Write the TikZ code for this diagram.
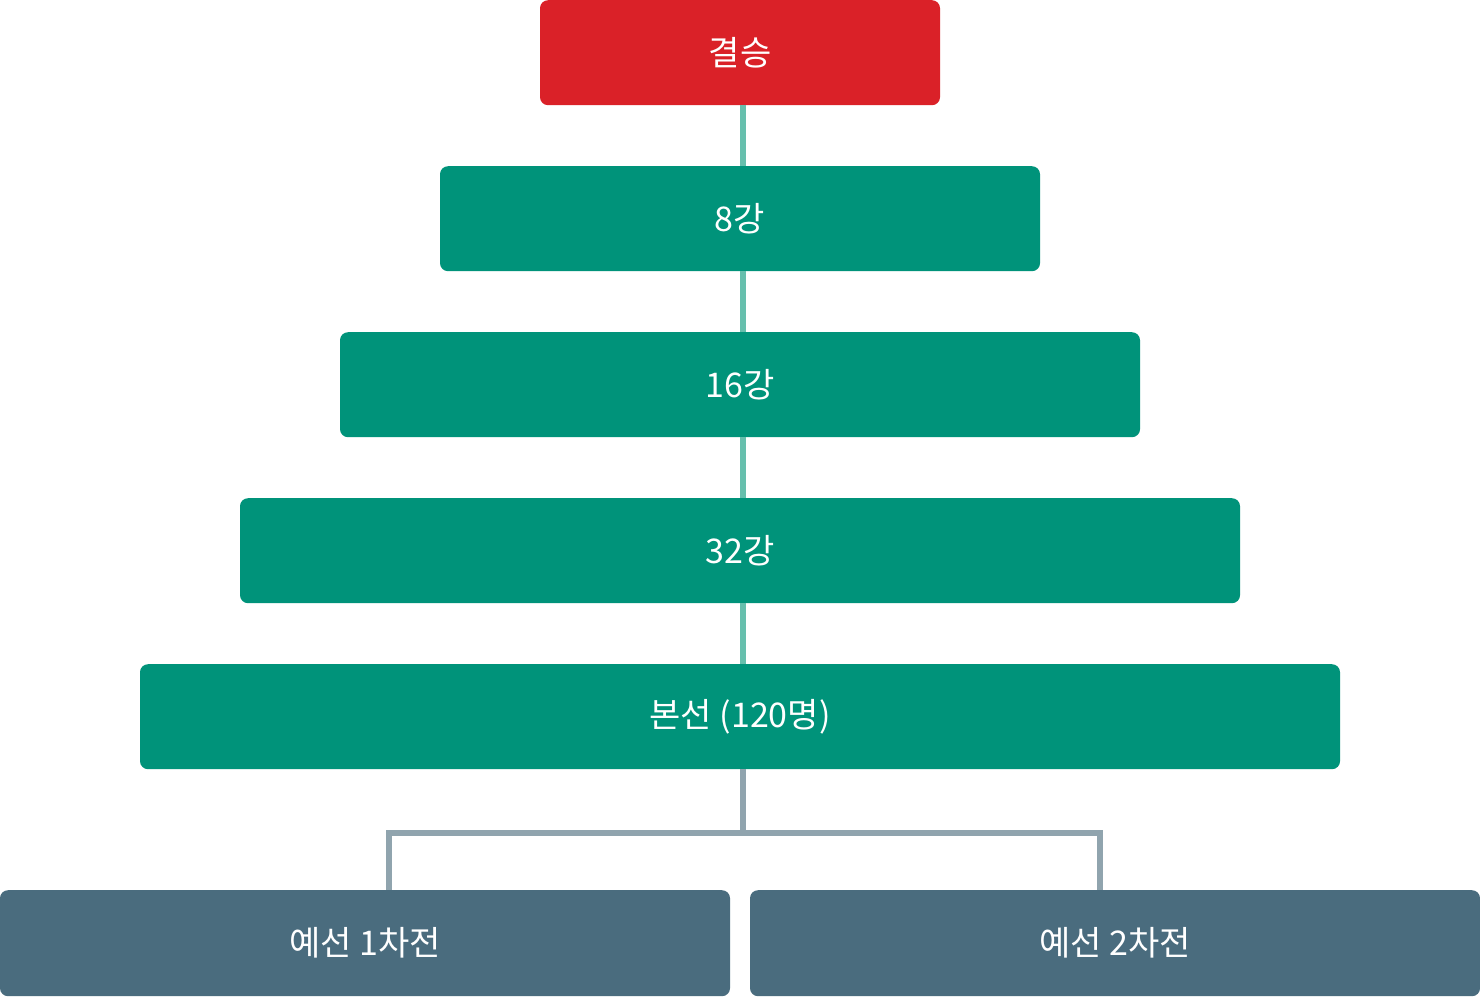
\documentclass[tikz,border=0pt]{standalone}
\usepackage{fontspec}
\setmainfont{Noto Sans CJK KR}
\definecolor{cred}{HTML}{DA2128}
\definecolor{cgreen}{HTML}{00937A}
\definecolor{cteal}{HTML}{66BFAD}
\definecolor{cslate}{HTML}{4A6C7E}
\definecolor{cgrey}{HTML}{90A4AE}
\begin{document}
\begin{tikzpicture}[x=1pt,y=-1pt,
  box/.style={rounded corners=8pt, inner sep=0pt, minimum height=105pt, text=white,
    font=\fontsize{34}{40}\selectfont, anchor=north},
  tline/.style={draw=cteal, line width=6pt},
  gline/.style={draw=cgrey, line width=6pt, line join=miter}]
\useasboundingbox (0,0) rectangle (1480,996);
\node[box, fill=cred, minimum width=400pt] (final) at (740,0) {결승};
\node[box, fill=cgreen, minimum width=600pt] (q8) at (740,166) {8강};
\node[box, fill=cgreen, minimum width=800pt] (q16) at (740,332) {16강};
\node[box, fill=cgreen, minimum width=1000pt] (q32) at (740,498) {32강};
\node[box, fill=cgreen, minimum width=1200pt] (main) at (740,664) {본선 (120명)};
\node[box, fill=cslate, minimum width=730pt, minimum height=106pt] (p1) at (365,890) {예선 1차전};
\node[box, fill=cslate, minimum width=730pt, minimum height=106pt] (p2) at (1115,890) {예선 2차전};
\draw[tline] ([xshift=3pt]final.south) -- ([xshift=3pt]q8.north);
\draw[tline] ([xshift=3pt]q8.south) -- ([xshift=3pt]q16.north);
\draw[tline] ([xshift=3pt]q16.south) -- ([xshift=3pt]q32.north);
\draw[tline] ([xshift=3pt]q32.south) -- ([xshift=3pt]main.north);
\coordinate (jl) at (389,833);
\coordinate (jr) at (1100,833);
\draw[gline] ([xshift=3pt]main.south) -- ([xshift=3pt]main.south |- jl);
\draw[gline] (jl |- p1.north) -- (jl) -- (jr) -- (jr |- p2.north);
\end{tikzpicture}
\end{document}
